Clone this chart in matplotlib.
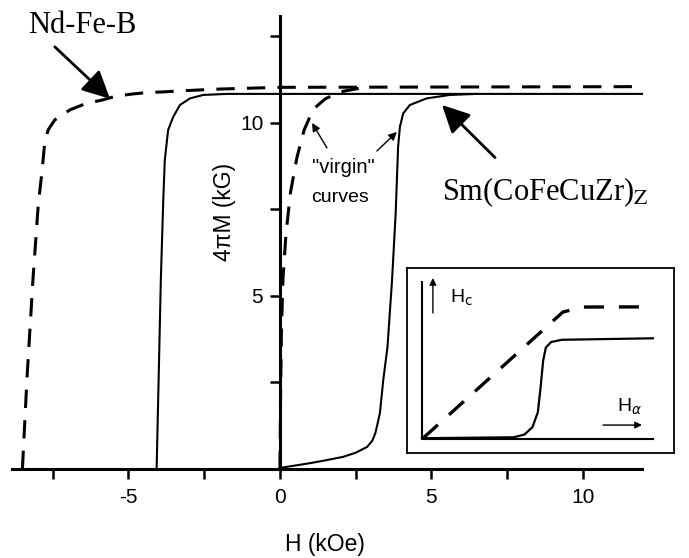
import numpy as np
import matplotlib
matplotlib.use('Agg')
import matplotlib.pyplot as plt

plt.rcParams['font.family'] = ['Liberation Sans', 'DejaVu Sans']
plt.rcParams['axes.unicode_minus'] = False

# demagnetization curves, H in kOe, 4piM in kG
ndfeb_H = [-8.5, -8.35, -8.15, -7.98, -7.86, -7.76, -7.65, -7.43, -6.93, -6.38, -5.88,
           -5.39, -4.84, -4.36, -3.8, -3.24, -2.0, 0.0, 11.95]
ndfeb_M = [0.0, 2.6, 5.5, 7.6, 8.55, 9.46, 9.8, 10.09, 10.38, 10.57, 10.66,
           10.78, 10.84, 10.88, 10.9, 10.93, 10.98, 11.03, 11.05]

sm_H = [-4.07, -3.93, -3.85, -3.8, -3.69, -3.52, -3.3, -2.97, -2.53, -1.76, 0.0, 11.95]
sm_M = [0.0, 5.5, 7.8, 8.93, 9.8, 10.18, 10.52, 10.71, 10.81, 10.84, 10.84, 10.84]

# virgin curves
ndv_H = [0.0, 0.02, 0.05, 0.1, 0.2, 0.35, 0.56, 0.8, 1.1, 1.5, 2.0, 2.6]
ndv_M = [0.0, 2.0, 4.0, 5.5, 6.8, 8.0, 9.0, 9.8, 10.4, 10.7, 10.9, 11.0]

smv_H = [0.0, 0.5, 1.0, 1.5, 2.08, 2.5, 2.88, 3.05, 3.15, 3.22, 3.3, 3.41, 3.55, 3.7,
         3.82, 3.9, 3.96, 4.07, 4.29, 4.84, 5.61, 6.5]
smv_M = [0.03, 0.1, 0.17, 0.25, 0.35, 0.47, 0.64, 0.82, 1.04, 1.3, 1.62, 2.57, 3.53, 5.46,
         7.39, 9.31, 9.89, 10.28, 10.52, 10.71, 10.81, 10.84]

# inset: Hc vs H_alpha (arbitrary units)
inset_frame_x = [0.056, 0.056, 0.921]
inset_frame_y = [0.924, 0.076, 0.076]
hc_dash_x = [0.06, 0.584, 0.66, 0.921]
hc_dash_y = [0.08, 0.762, 0.789, 0.79]
hc_solid_x = [0.056, 0.40, 0.44, 0.47, 0.49, 0.50, 0.51, 0.52, 0.54, 0.58, 0.921]
hc_solid_y = [0.08, 0.085, 0.10, 0.14, 0.22, 0.35, 0.50, 0.57, 0.60, 0.612, 0.62]

fig = plt.figure(figsize=(6.89, 5.58), dpi=100)
ax = fig.add_axes([11.8/689, 89/558, 630.2/689, 453.3/558])
ax.set_xlim(-8.85, 11.95)
ax.set_ylim(0, 13.1)

dash = (6, 4)
ax.plot(ndfeb_H, ndfeb_M, color='k', lw=2.2, ls=(0, dash), clip_on=False)
ax.plot(ndv_H, ndv_M, color='k', lw=2.2, ls=(0, dash), clip_on=False)
ax.plot(sm_H, sm_M, color='k', lw=1.5, clip_on=False)
ax.plot(smv_H, smv_M, color='k', lw=1.5, clip_on=False)

for s in ['top', 'right']:
    ax.spines[s].set_visible(False)
ax.spines['left'].set_position(('data', 0))
ax.spines['left'].set_linewidth(2.2)
ax.spines['bottom'].set_linewidth(2.2)

ax.set_xticks([-5, 0, 5, 10])
ax.set_xticks([-7.5, -2.5, 2.5, 7.5], minor=True)
ax.set_yticks([5, 10])
ax.set_yticks([2.5, 7.5, 12.5], minor=True)
ax.tick_params(which='both', direction='out', length=7, width=1.8, labelsize=15)
ax.tick_params(axis='x', pad=7)
ax.tick_params(axis='y', pad=5)

ax.text(-1.82, 7.43, '4πM (kG)', rotation=90, ha='center', va='center', fontsize=16.5)
fig.text(325/689, 1 - 545/558, 'H (kOe)', ha='center', va='center', fontsize=16.5)

# labels and arrows
ax.text(-6.53, 12.83, 'Nd-Fe-B', family='Liberation Serif', fontsize=22,
        ha='center', va='center')
ax.annotate('', xy=(-5.61, 10.7), xytext=(-7.43, 12.2),
            arrowprops=dict(arrowstyle='-|>', mutation_scale=42, lw=2, color='k',
                            shrinkA=0, shrinkB=0))
ax.text(5.35, 7.77, r'Sm(CoFeCuZr)$_\mathrm{Z}$', family='Liberation Serif', fontsize=22,
        ha='left', va='baseline', math_fontfamily='stix')
ax.annotate('', xy=(5.35, 10.52), xytext=(7.1, 9.0),
            arrowprops=dict(arrowstyle='-|>', mutation_scale=42, lw=2, color='k',
                            shrinkA=0, shrinkB=0))

ax.text(2.11, 8.7, '"virgin"', fontsize=14.5, ha='center', va='center')
ax.text(1.98, 7.86, 'curves', fontsize=14, ha='center', va='center')
ax.annotate('', xy=(1.06, 10.0), xytext=(1.55, 9.28),
            arrowprops=dict(arrowstyle='-|>', mutation_scale=12, lw=1, color='k',
                            shrinkA=0, shrinkB=0))
ax.annotate('', xy=(3.86, 9.74), xytext=(3.2, 9.19),
            arrowprops=dict(arrowstyle='-|>', mutation_scale=12, lw=1, color='k',
                            shrinkA=0, shrinkB=0))

# inset
ins = fig.add_axes([407/689, (558-453)/558, 267/689, 185/558])
ins.set_xlim(0, 1)
ins.set_ylim(0, 1)
ins.set_xticks([])
ins.set_yticks([])
for s in ins.spines.values():
    s.set_linewidth(1.3)
ins.plot(inset_frame_x, inset_frame_y, color='k', lw=1.5)
ins.plot(hc_dash_x, hc_dash_y, color='k', lw=2.4, ls=(0, (6, 4.5)))
ins.plot(hc_solid_x, hc_solid_y, color='k', lw=1.6)
ins.annotate('', xy=(0.097, 0.946), xytext=(0.097, 0.757),
             arrowprops=dict(arrowstyle='-|>', mutation_scale=10, lw=1, color='k',
                             shrinkA=0, shrinkB=0))
ins.annotate('', xy=(0.88, 0.151), xytext=(0.734, 0.151),
             arrowprops=dict(arrowstyle='-|>', mutation_scale=10, lw=1, color='k',
                             shrinkA=0, shrinkB=0))
ins.text(0.161, 0.838, r'H$_\mathrm{c}$', fontsize=14, ha='left', va='center',
         math_fontfamily='dejavusans')
ins.text(0.787, 0.249, r'H$_\alpha$', fontsize=14, ha='left', va='center',
         math_fontfamily='dejavusans')

fig.savefig('out.png', dpi=100)
